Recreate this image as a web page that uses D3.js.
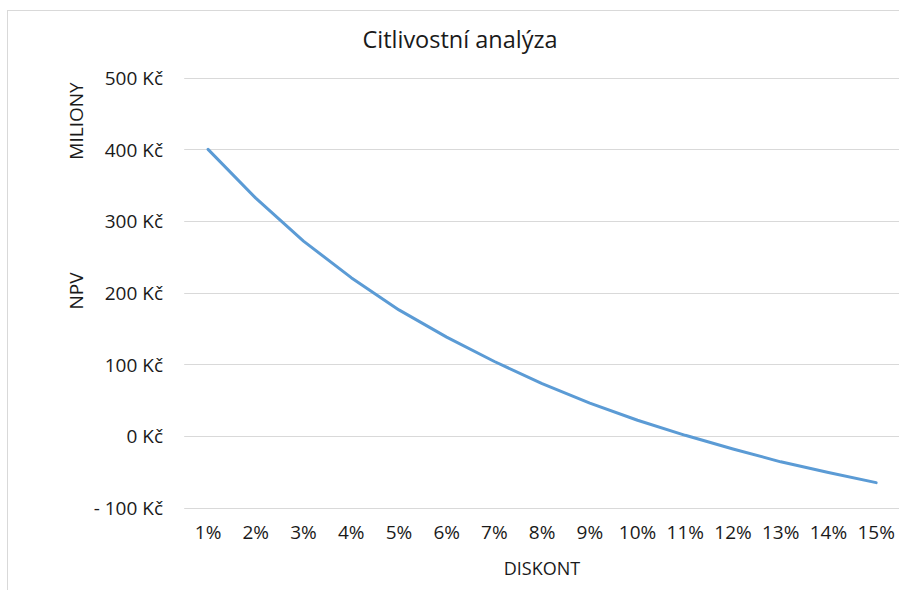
<!DOCTYPE html>
<html>
<head>
<meta charset="utf-8">
<script src="https://cdn.jsdelivr.net/npm/d3@7"></script>
<style>
  html, body { margin: 0; padding: 0; background: #fff; }
  svg { display: block; }
  text { font-family: "Open Sans", sans-serif; fill: #1a1a1a; }
</style>
</head>
<body>
<svg id="chart" width="899" height="590"></svg>
<script>
const categories = ["1%", "2%", "3%", "4%", "5%", "6%", "7%", "8%", "9%", "10%", "11%", "12%", "13%", "14%", "15%"];
const npvValues = [400, 332, 272, 221, 176, 138, 104, 73, 46, 22, 1, -18, -36, -51, -65];
const yTicks = [-100, 0, 100, 200, 300, 400, 500];
const yTickLabels = ["- 100 Kč", "0 Kč", "100 Kč", "200 Kč", "300 Kč", "400 Kč", "500 Kč"];
const titleText = "Citlivostní analýza";
const xTitle = "DISKONT";
const yTitleTop = "MILIONY";
const yTitleBottom = "NPV";

const svg = d3.select("#chart");

// chart frame (extends beyond the visible window on right and bottom)
svg.append("rect")
  .attr("x", 7.5).attr("y", 10.5)
  .attr("width", 1000).attr("height", 1000)
  .attr("fill", "#fff").attr("stroke", "#d9d9d9").attr("stroke-width", 1);

const plot = { left: 184.2, right: 900, top: 77.7, bottom: 507.7 };

const x = d3.scaleBand().domain(categories).range([plot.left, plot.right]).padding(0);
const y = d3.scaleLinear().domain([-100, 500]).range([plot.bottom, plot.top]);

// gridlines
svg.append("g").selectAll("line").data(yTicks).join("line")
  .attr("x1", plot.left).attr("x2", plot.right)
  .attr("y1", d => Math.round(y(d)) + 0.5).attr("y2", d => Math.round(y(d)) + 0.5)
  .attr("stroke", "#d9d9d9").attr("stroke-width", 1);

// y axis labels
const yAxis = d3.axisLeft(y).tickValues(yTicks)
  .tickFormat((d, i) => yTickLabels[yTicks.indexOf(d)]).tickSize(0).tickPadding(0);
const gy = svg.append("g").attr("transform", `translate(${163},0)`).call(yAxis);
gy.select(".domain").remove();
gy.selectAll("text").attr("font-size", 19).attr("font-family", "Open Sans, sans-serif")
  .attr("fill", "#1a1a1a").attr("dy", "0.35em");

// x axis labels
const xAxis = d3.axisBottom(x).tickSize(0).tickPadding(0);
const gx = svg.append("g").attr("transform", `translate(0,${525})`).call(xAxis);
gx.select(".domain").remove();
gx.selectAll("text").attr("font-size", 19).attr("font-family", "Open Sans, sans-serif")
  .attr("fill", "#1a1a1a").attr("dy", "0.71em");

// line
const line = d3.line()
  .x((d, i) => x(categories[i]) + x.bandwidth() / 2)
  .y(d => y(d));
svg.append("path").datum(npvValues)
  .attr("d", line)
  .attr("fill", "none")
  .attr("stroke", "#5b9bd5")
  .attr("stroke-width", 3)
  .attr("stroke-linejoin", "round")
  .attr("stroke-linecap", "round");

// title
svg.append("text").attr("x", 460).attr("y", 48)
  .attr("text-anchor", "middle").attr("font-size", 23.5)
  .text(titleText);

// x axis title
svg.append("text").attr("x", 542).attr("y", 575)
  .attr("text-anchor", "middle").attr("font-size", 18)
  .text(xTitle);

// y axis titles
svg.append("text").attr("transform", "translate(83,121) rotate(-90)")
  .attr("text-anchor", "middle").attr("font-size", 19)
  .text(yTitleTop);
svg.append("text").attr("transform", "translate(83,291) rotate(-90)")
  .attr("text-anchor", "middle").attr("font-size", 19)
  .text(yTitleBottom);
</script>
</body>
</html>
